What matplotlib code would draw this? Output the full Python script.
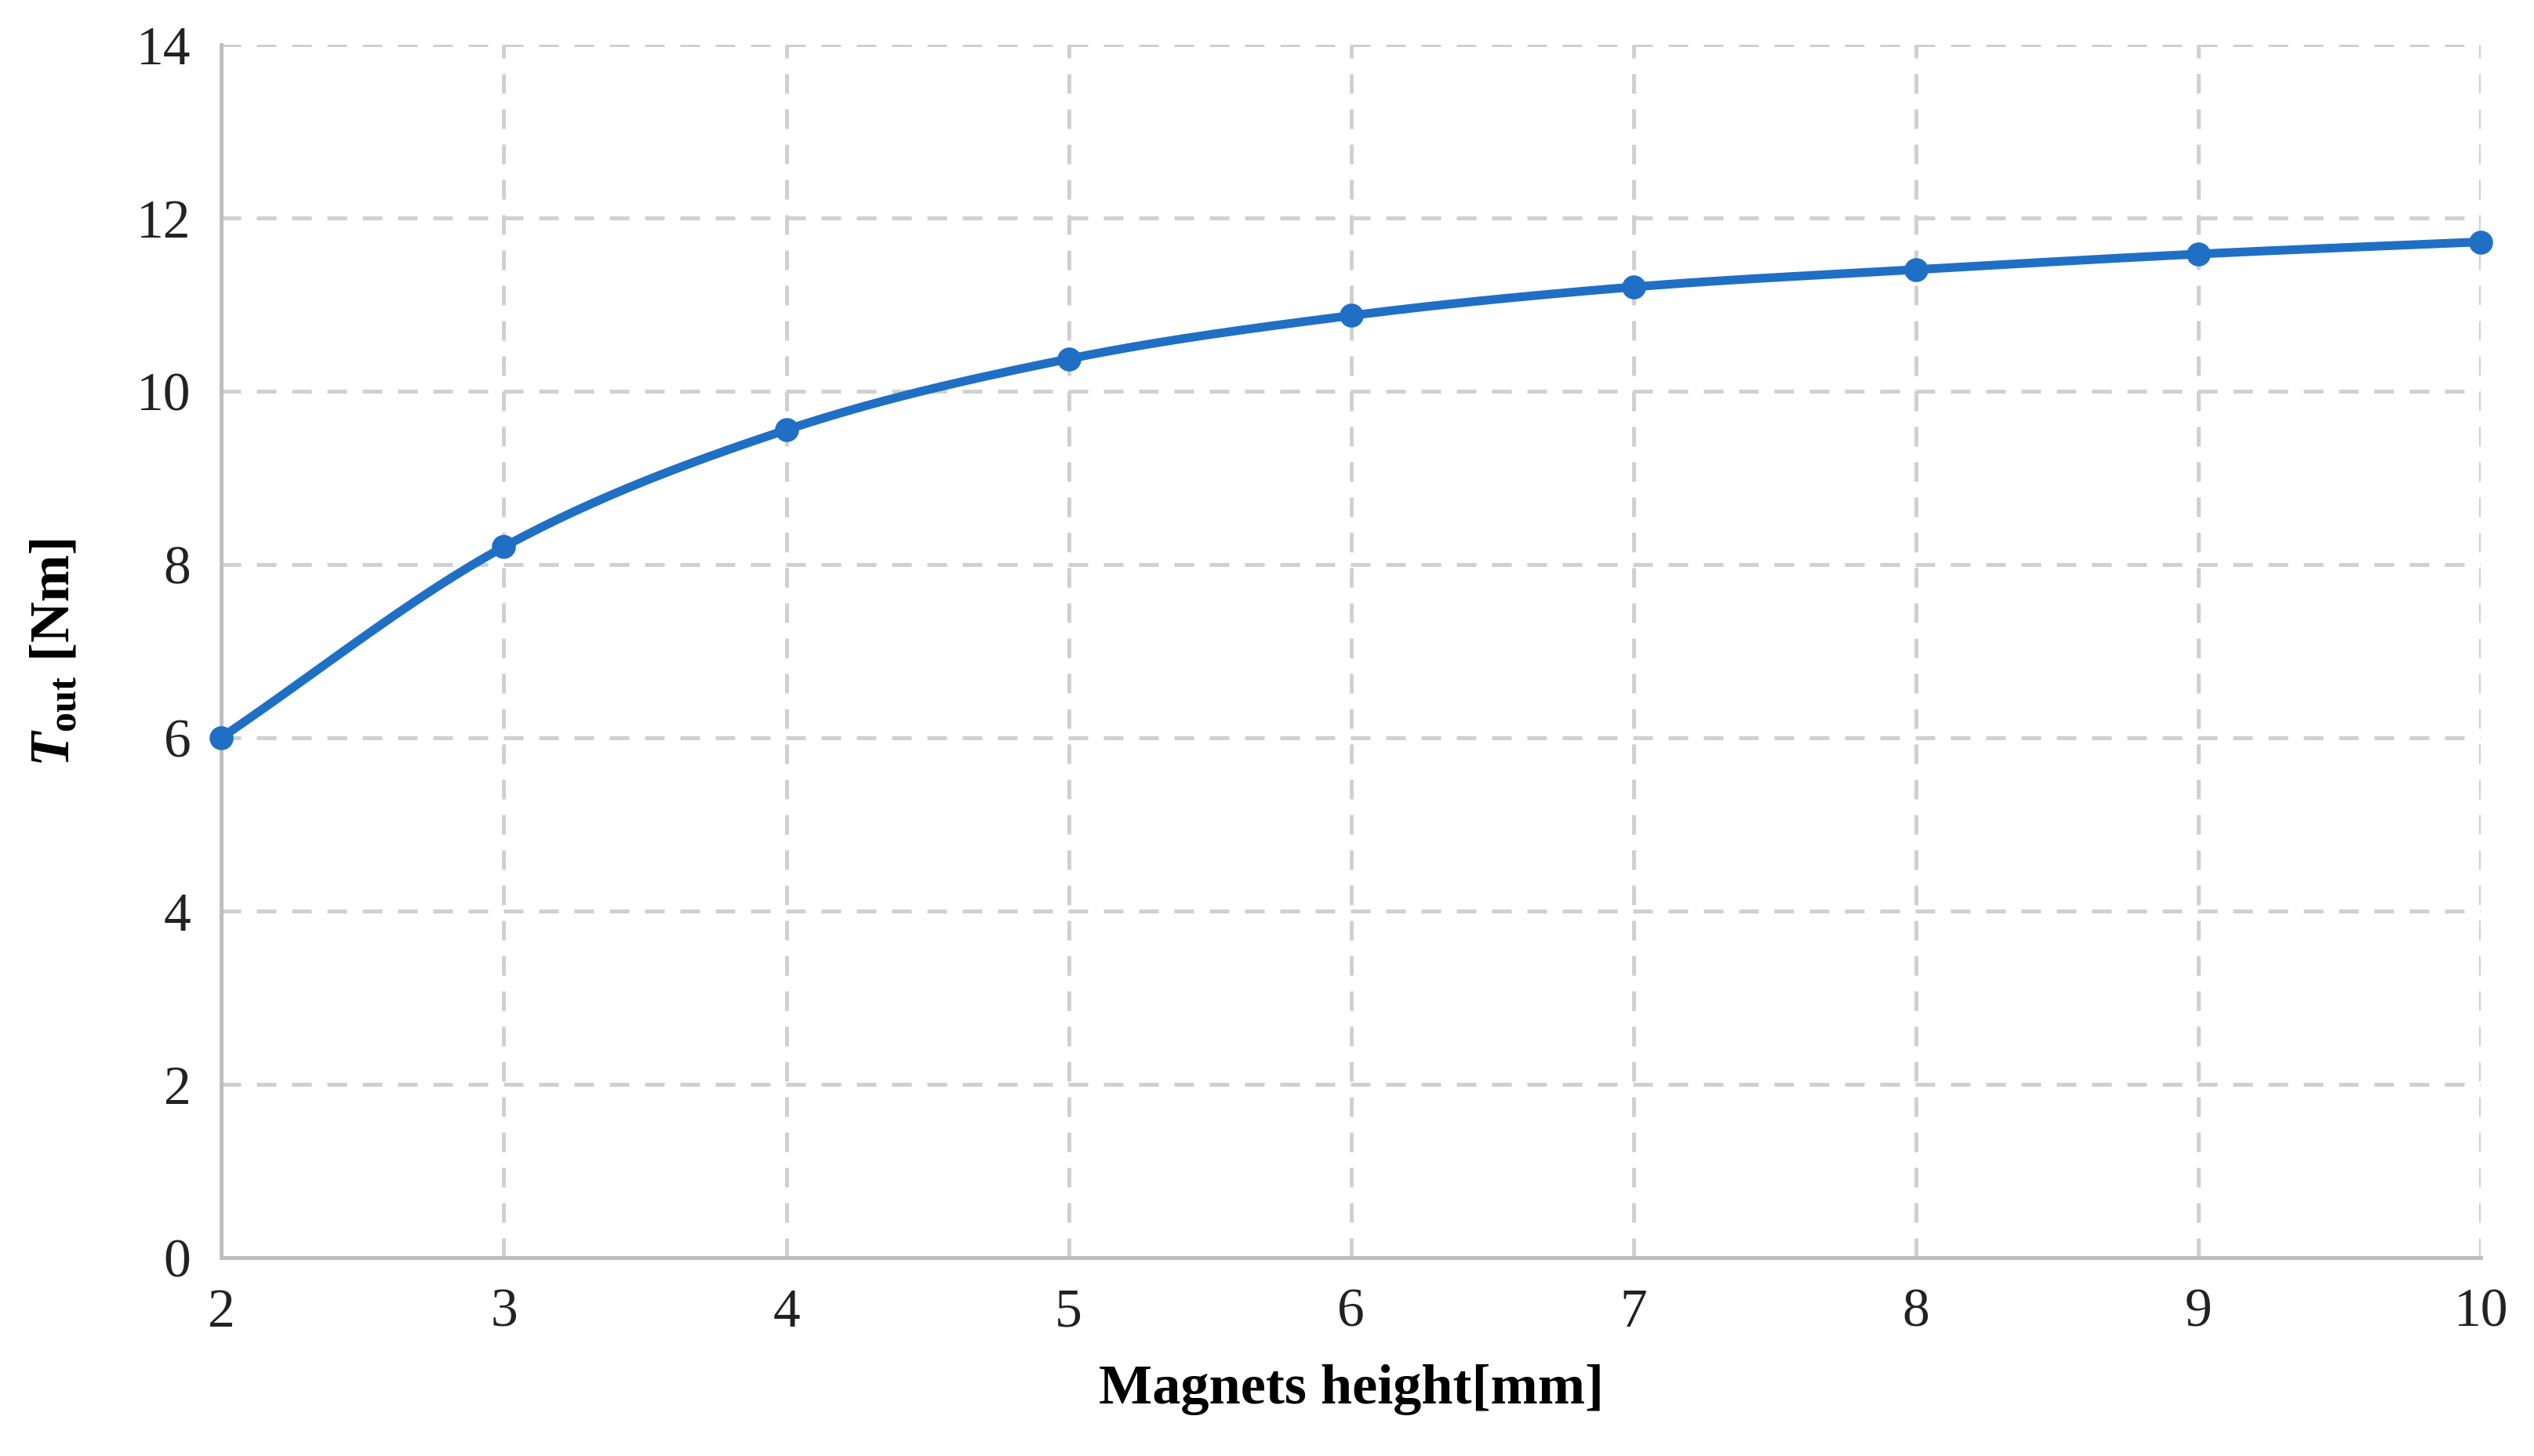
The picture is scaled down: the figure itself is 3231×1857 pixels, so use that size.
import numpy as np
import matplotlib
matplotlib.use("Agg")
import matplotlib.pyplot as plt

heights = [2, 3, 4, 5, 6, 7, 8, 9, 10]
torque = [6.0, 8.2, 9.55, 10.37, 10.87, 11.2, 11.4, 11.58, 11.72]

plt.rcParams['font.family'] = ['Liberation Serif', 'DejaVu Serif']
plt.rcParams['mathtext.fontset'] = 'custom'
plt.rcParams['mathtext.rm'] = 'Liberation Serif:bold'
plt.rcParams['mathtext.it'] = 'Liberation Serif:italic:bold'
plt.rcParams['mathtext.bf'] = 'Liberation Serif:bold'

fig = plt.figure(figsize=(16.155, 9.29), dpi=200)
ax = fig.add_axes([0.0874, 0.1364, 0.8916, 0.8326])

# Excel-style smoothed line (Catmull-Rom through points)
x = np.array(heights, float); y = np.array(torque, float)
px = np.concatenate([[2*x[0]-x[1]], x, [2*x[-1]-x[-2]]])
py = np.concatenate([[2*y[0]-y[1]], y, [2*y[-1]-y[-2]]])
sx, sy = [], []
t = np.linspace(0, 1, 30)
for i in range(1, len(px)-2):
    for P, out in ((px, sx), (py, sy)):
        p0, p1, p2, p3 = P[i-1], P[i], P[i+1], P[i+2]
        out.extend(0.5*((2*p1) + (-p0+p2)*t + (2*p0-5*p1+4*p2-p3)*t**2 + (-p0+3*p1-3*p2+p3)*t**3))
ax.plot(sx, sy, color='#1f6fc5', lw=4, zorder=3)
ax.plot(heights, torque, 'o', color='#1f6fc5', ms=10, zorder=4, clip_on=False)

ax.set_xlim(2, 10); ax.set_ylim(0, 14)
ax.set_xticks(range(2, 11)); ax.set_yticks(range(0, 15, 2))
ax.grid(True, ls=(0, (5, 4)), color='#d0d0d0', lw=1.8)
for s in ['top', 'right']:
    ax.spines[s].set_visible(False)
for s in ['left', 'bottom']:
    ax.spines[s].set_color('#bfbfbf'); ax.spines[s].set_linewidth(1.8)
ax.tick_params(length=0, labelsize=25, pad=14, colors='#222222')
ax.set_xlabel('Magnets height[mm]', fontsize=26, fontweight='bold', labelpad=12)
fig.text(0.022, 0.552, r'$T_{\rm out}$ [Nm]', rotation=90, ha='center', va='center',
         fontsize=26, fontweight='bold')
fig.savefig('out.png', dpi=200)
